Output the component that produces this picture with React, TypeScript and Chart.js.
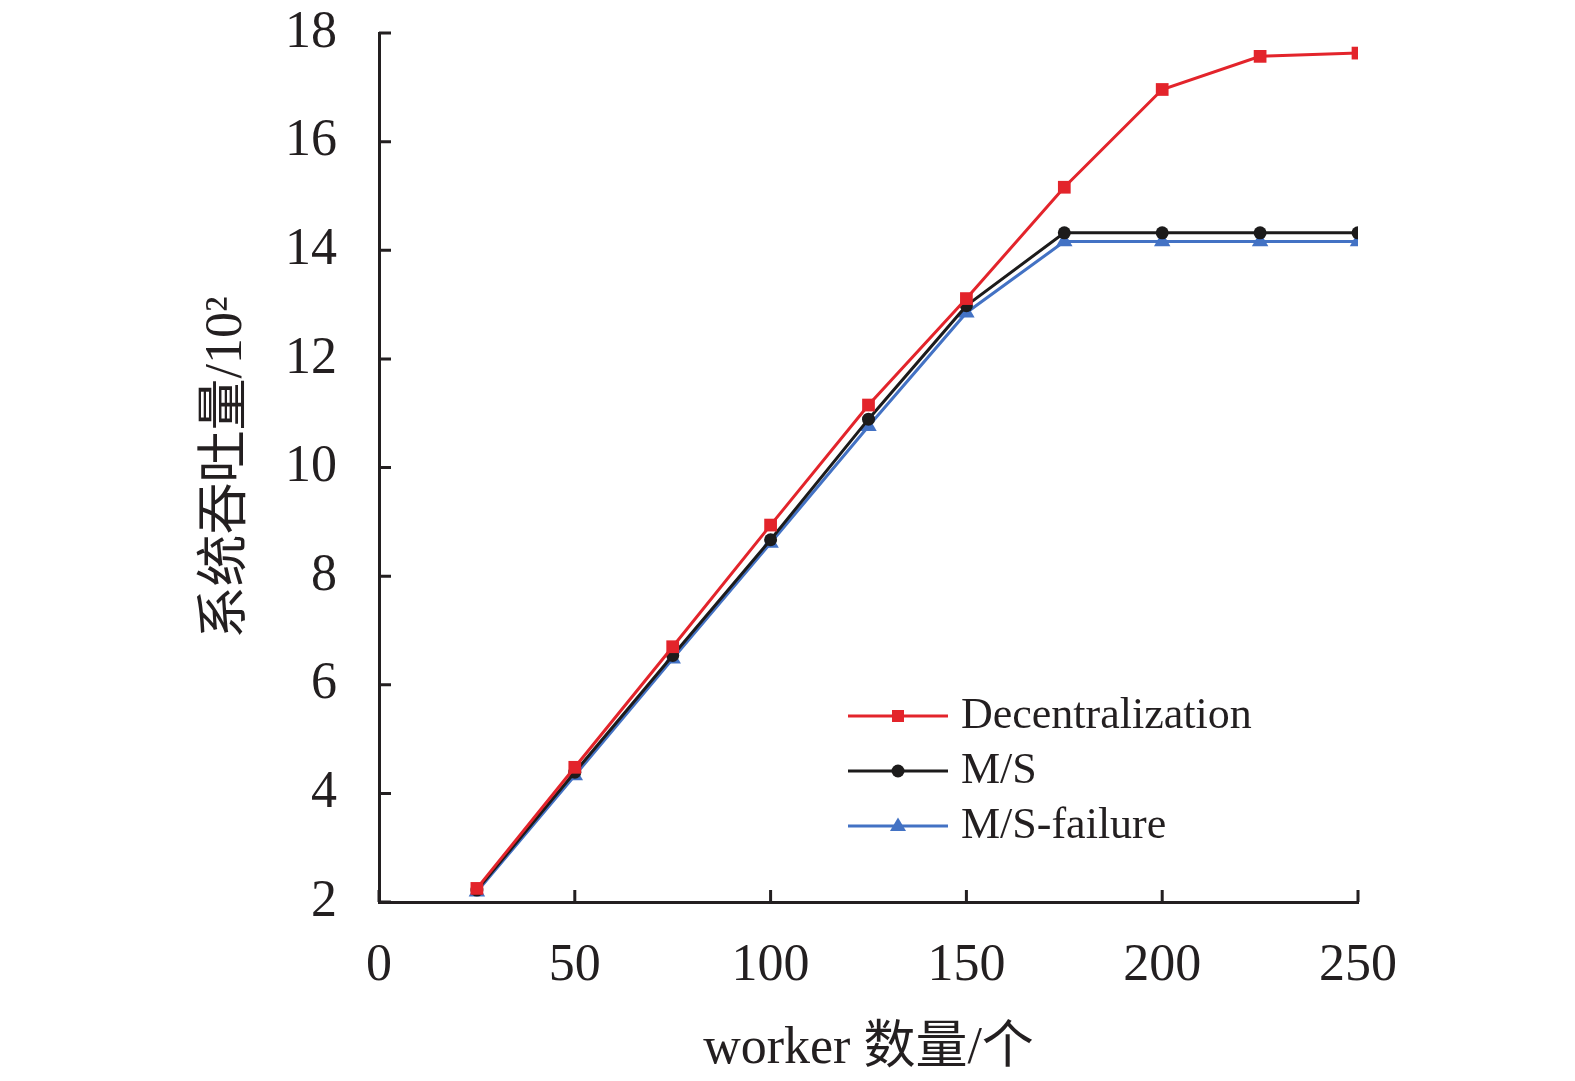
import { useEffect, useRef } from "react"
import { Chart, registerables } from "chart.js"

Chart.register(...registerables)

const workers = [25, 50, 75, 100, 125, 150, 175, 200, 225, 250]
const decentralization = [2.25, 4.48, 6.7, 8.94, 11.15, 13.11, 15.16, 16.96, 17.57, 17.63]
const masterSlave = [2.22, 4.39, 6.54, 8.67, 10.89, 12.98, 14.32, 14.32, 14.32, 14.32]
const masterSlaveFailure = [2.19, 4.33, 6.48, 8.61, 10.76, 12.85, 14.16, 14.16, 14.16, 14.16]
const xTicks = [0, 50, 100, 150, 200, 250]
const yTicks = [2, 4, 6, 8, 10, 12, 14, 16, 18]

const serif = "'Liberation Serif', 'Times New Roman', 'Noto Sans CJK SC', serif"
const ink = "#231f20"

// tick marks pointing into the plot, like the original
const innerTicks = {
  id: "innerTicks",
  afterDraw(chart: any) {
    const { ctx } = chart
    const x = chart.scales.x
    const y = chart.scales.y
    ctx.save()
    ctx.strokeStyle = ink
    ctx.lineWidth = 3
    ctx.beginPath()
    xTicks.forEach((v) => {
      const px = x.getPixelForValue(v)
      ctx.moveTo(px, y.bottom)
      ctx.lineTo(px, y.bottom - 12)
    })
    yTicks.forEach((v) => {
      const py = y.getPixelForValue(v)
      ctx.moveTo(x.left, py)
      ctx.lineTo(x.left + 12, py)
    })
    ctx.stroke()
    ctx.restore()
  },
}

function drawMarker(ctx: CanvasRenderingContext2D, style: string, cx: number, cy: number) {
  ctx.beginPath()
  if (style === "rect") {
    ctx.rect(cx - 6, cy - 6, 12, 12)
  } else if (style === "triangle") {
    ctx.moveTo(cx, cy - 8.5)
    ctx.lineTo(cx + 8, cy + 5)
    ctx.lineTo(cx - 8, cy + 5)
    ctx.closePath()
  } else {
    ctx.arc(cx, cy, 6.5, 0, Math.PI * 2)
  }
  ctx.fill()
}

// legend drawn inside the plot area
const innerLegend = {
  id: "innerLegend",
  afterDraw(chart: any) {
    const { ctx } = chart
    const x0 = 848
    const x1 = 948
    const top = 716
    const step = 55
    ctx.save()
    chart.data.datasets.forEach((ds: any, i: number) => {
      const yy = top + i * step
      ctx.strokeStyle = ds.borderColor
      ctx.lineWidth = 3
      ctx.beginPath()
      ctx.moveTo(x0, yy)
      ctx.lineTo(x1, yy)
      ctx.stroke()
      ctx.fillStyle = ds.pointBackgroundColor
      drawMarker(ctx, ds.pointStyle, 898, yy)
      ctx.fillStyle = ink
      ctx.font = `44px ${serif}`
      ctx.textBaseline = "middle"
      ctx.textAlign = "left"
      ctx.fillText(ds.label, 961, yy)
    })
    ctx.restore()
  },
}

const App = () => {
  const chartRef = useRef<HTMLCanvasElement>(null)
  const chartInstance = useRef<Chart | null>(null)

  useEffect(() => {
    if (!chartRef.current) return
    if (chartInstance.current) {
      chartInstance.current.destroy()
    }
    const ctx = chartRef.current.getContext("2d")
    if (!ctx) return

    const mk = (label: string, data: number[], color: string, style: string, radius: number) => ({
      label,
      data: workers.map((w, i) => ({ x: w, y: data[i] })),
      borderColor: color,
      backgroundColor: color,
      pointBackgroundColor: color,
      pointBorderColor: color,
      pointStyle: style,
      pointRadius: radius,
      pointBorderWidth: 0,
      borderWidth: 3,
      tension: 0,
    })

    const noPad = (scale: any) => {
      scale.paddingTop = 0
      scale.paddingBottom = 0
      scale.paddingLeft = 0
      scale.paddingRight = 0
    }

    chartInstance.current = new Chart(ctx, {
      type: "line",
      data: {
        datasets: [
          mk("Decentralization", decentralization, "#e3242b", "rect", 9),
          mk("M/S", masterSlave, "#1c1b1b", "circle", 6.5),
          mk("M/S-failure", masterSlaveFailure, "#4372c4", "triangle", 9.5),
        ] as any,
      },
      options: {
        animation: false,
        responsive: false,
        maintainAspectRatio: false,
        layout: { padding: { top: 33, right: 217, bottom: 0, left: 0 } },
        plugins: {
          legend: { display: false },
          tooltip: { enabled: false },
        },
        scales: {
          x: {
            type: "linear",
            min: 0,
            max: 250,
            afterBuildTicks: (scale: any) => {
              scale.ticks = xTicks.map((v) => ({ value: v }))
            },
            afterFit: (scale: any) => {
              scale.height = 179
              noPad(scale)
            },
            grid: { display: false, drawTicks: false },
            border: { display: true, color: ink, width: 3 },
            ticks: {
              color: ink,
              padding: 33,
              maxRotation: 0,
              font: { family: serif, size: 52 },
            },
            title: {
              display: true,
              text: "worker 数量/个",
              color: ink,
              font: { family: serif, size: 52 },
              padding: { top: 0, bottom: 0 },
            },
          },
          y: {
            type: "linear",
            min: 2,
            max: 18,
            afterBuildTicks: (scale: any) => {
              scale.ticks = yTicks.map((v) => ({ value: v }))
            },
            afterFit: (scale: any) => {
              scale.width = 379
              noPad(scale)
            },
            grid: { display: false, drawTicks: false },
            border: { display: true, color: ink, width: 3 },
            ticks: {
              color: ink,
              padding: 42,
              font: { family: serif, size: 52 },
            },
            title: {
              display: true,
              text: "系统吞吐量/10²",
              color: ink,
              font: { family: serif, size: 52 },
              padding: { top: 196, bottom: 0 },
            },
          },
        },
      },
      plugins: [innerTicks, innerLegend],
    } as any)

    return () => {
      if (chartInstance.current) {
        chartInstance.current.destroy()
        chartInstance.current = null
      }
    }
  }, [])

  return (
    <div style={{ position: "absolute", left: 0, top: 0, width: 1575, height: 1081, background: "#fff" }}>
      <canvas ref={chartRef} width={1575} height={1081} style={{ width: 1575, height: 1081 }}></canvas>
    </div>
  )
}

export default App
